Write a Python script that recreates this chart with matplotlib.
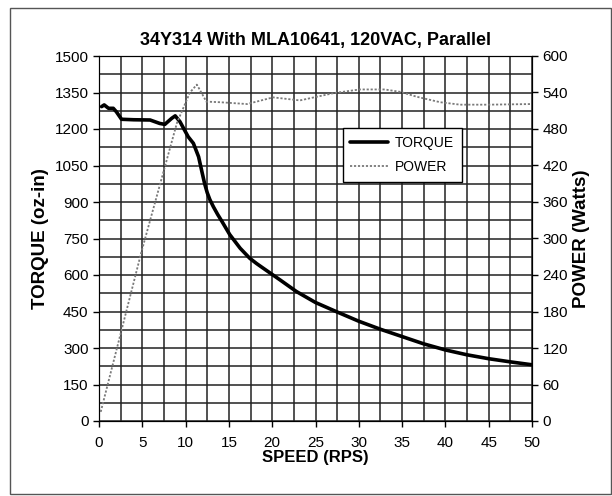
import matplotlib
matplotlib.use("Agg")
import matplotlib.pyplot as plt
from matplotlib.patches import Rectangle
from matplotlib.ticker import MultipleLocator

plt.rcParams['font.family'] = ['Liberation Sans', 'DejaVu Sans']

# torque curve (oz-in)
torque_speed = [0.3, 0.6, 1.1, 1.65, 2.0, 2.6, 4.0, 5.9, 7.0, 7.6, 8.4, 8.8, 9.35,
                10.3, 10.9, 11.5, 11.9, 12.2, 12.5, 12.8, 13.2, 13.7, 14.2,
                15.1, 16.3, 17.4, 18.2, 19.0, 20.9, 22.8, 25.0, 27.5, 30.0,
                32.5, 35.0, 37.5, 40.0, 42.5, 45.0, 47.5, 50.0]
torque = [1292, 1299, 1285, 1285, 1271, 1240, 1238, 1237, 1223, 1219, 1244, 1254,
          1230, 1168, 1141, 1086, 1022, 975, 938, 910, 881, 849, 820,
          766, 710, 669, 647, 627, 580, 532, 487, 448, 410,
          377, 347, 317, 292, 272, 256, 243, 231]

# power curve (Watts)
power_speed = [0.2, 4.9, 9.0, 10.5, 11.3, 12.4, 14.0, 17.1, 20.1, 23.2, 27.1,
               30.1, 33.0, 34.8, 36.7, 39.4, 41.7, 45.0, 49.8]
power = [15, 278, 490, 540, 553, 525, 524, 521, 532, 527, 539,
         545, 545, 541, 533, 524, 520, 520, 521]

fig = plt.figure(figsize=(6.12, 4.96), dpi=100)
fig.patches.append(Rectangle((10 / 612, 2 / 496), 601 / 612, 486 / 496,
                             transform=fig.transFigure, fill=False,
                             edgecolor='#555555', linewidth=1.0))

ax = fig.add_axes([99 / 612, 1 - 421 / 496, 433 / 612, 365 / 496])
ax2 = ax.twinx()

ax.set_xlim(0, 50)
ax.set_ylim(0, 1500)
ax2.set_ylim(0, 600)

ax.xaxis.set_major_locator(MultipleLocator(5))
ax.xaxis.set_minor_locator(MultipleLocator(2.5))
ax.yaxis.set_major_locator(MultipleLocator(150))
ax.yaxis.set_minor_locator(MultipleLocator(75))
ax2.yaxis.set_major_locator(MultipleLocator(60))

ax.grid(True, which='both', color='#222222', linewidth=1.1)
ax.set_axisbelow(True)

ax.tick_params(axis='both', which='major', labelsize=11, direction='out',
               length=4, width=1, colors='black')
ax.tick_params(axis='both', which='minor', length=0)
ax.tick_params(axis='x', pad=7)
ax2.tick_params(axis='y', labelsize=11, direction='out', length=4, width=1)

for sp in ax.spines.values():
    sp.set_color('#222222')

l1, = ax.plot(torque_speed, torque, color='black', linewidth=2.6,
              solid_joinstyle='round', solid_capstyle='round', label='TORQUE')
l2, = ax2.plot(power_speed, power, color='#7a7a7a', linewidth=1.3,
               linestyle=(0, (1.2, 1.0)), label='POWER')

ax.set_title('34Y314 With MLA10641, 120VAC, Parallel', fontsize=13,
             fontweight='bold', pad=8)
ax.set_xlabel('SPEED (RPS)', fontsize=12, fontweight='bold', labelpad=0)
ax.set_ylabel('TORQUE (oz-in)', fontsize=13.5, fontweight='bold', labelpad=4)
ax2.set_ylabel('POWER (Watts)', fontsize=13.5, fontweight='bold', labelpad=4)

leg = ax2.legend([l1, l2], ['TORQUE', 'POWER'], loc='upper left',
                 bbox_to_anchor=(0.563, 0.803), borderaxespad=0, fontsize=10,
                 frameon=True, fancybox=False, framealpha=1, edgecolor='black',
                 handlelength=2.7, handletextpad=0.5, borderpad=0.55,
                 labelspacing=0.75)
leg.get_frame().set_linewidth(1.0)

fig.savefig('out.png', dpi=100)
